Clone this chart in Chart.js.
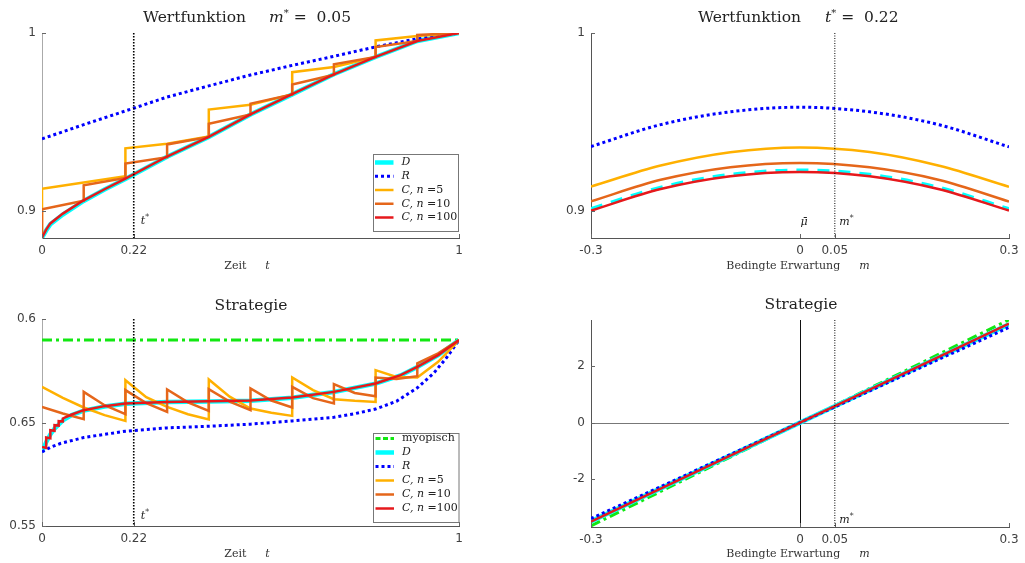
<!DOCTYPE html>
<html>
<head>
<meta charset="utf-8">
<script src="https://cdn.jsdelivr.net/npm/chart.js@4.4.1/dist/chart.umd.min.js"></script>
<style>
    body { margin: 0; background: #fff; }
    #wrap { position: relative; width: 1025px; height: 563px; overflow: hidden; font-family: "DejaVu Serif", serif; color: #222; }
    canvas { position: absolute; }
    .ttl { position: absolute; font-size: 15.5px; line-height: 18px; white-space: nowrap; }
    .ttl.c { transform: translateX(-50%); }
    .ttl sup, .ax sup { font-size: 10px; line-height: 0; vertical-align: 6px; }
    .ax { position: absolute; font-size: 11px; line-height: 13px; white-space: nowrap; transform: translateX(-50%); color: #333; }
    .gap { display: inline-block; }
</style>
</head>
<body>
<div id="wrap">
    <canvas id="c-tl" width="512" height="281" style="left:0;top:0"></canvas>
    <canvas id="c-tr" width="513" height="281" style="left:512px;top:0"></canvas>
    <canvas id="c-bl" width="512" height="282" style="left:0;top:281px"></canvas>
    <canvas id="c-br" width="513" height="282" style="left:512px;top:281px"></canvas>

    <div class="ttl" style="left:143px;top:8px">Wertfunktion<span class="gap" style="width:23px"></span><i>m</i><sup>*</sup>&nbsp;=&nbsp;&nbsp;0.05</div>
    <div class="ttl" style="left:698px;top:8px">Wertfunktion<span class="gap" style="width:24px"></span><i>t</i><sup>*</sup>&nbsp;=&nbsp;&nbsp;0.22</div>
    <div class="ttl c" style="left:251px;top:296px">Strategie</div>
    <div class="ttl c" style="left:801px;top:295px">Strategie</div>

    <div class="ax" style="left:247px;top:259px">Zeit<span class="gap" style="width:19px"></span><i>t</i></div>
    <div class="ax" style="left:798px;top:259px">Bedingte Erwartung<span class="gap" style="width:19px"></span><i>m</i></div>
    <div class="ax" style="left:247px;top:547px">Zeit<span class="gap" style="width:19px"></span><i>t</i></div>
    <div class="ax" style="left:798px;top:547px">Bedingte Erwartung<span class="gap" style="width:19px"></span><i>m</i></div>
</div>

<script>
// Achsen
const tTicks = [0, 0.22, 1];
const tTickLabels = ['0', '0.22', '1'];
const mTicks = [-0.3, 0, 0.05, 0.3];
const mTickLabels = ['-0.3', '0', '0.05', '0.3'];
const wTicks = [0.9, 1];
const wTickLabels = ['0.9', '1'];
const sTicks = [0.55, 0.65, 0.75];
const sTickLabels = ['0.55', '0.65', '0.6'];
const pTicks = [-2, 0, 2];
const pTickLabels = ['-2', '0', '2'];

const tStar = 0.22;
const mStar = 0.05;

// Wertfunktion über t
const tW_D = [0, 0.01, 0.02, 0.05, 0.1, 0.15, 0.2, 0.3, 0.4, 0.5, 0.6, 0.7, 0.8, 0.9, 1];
const wD_t = [0.885, 0.889, 0.8925, 0.898, 0.9056, 0.912, 0.918, 0.9305, 0.9415, 0.9542, 0.9655, 0.9768, 0.9865, 0.9955, 1.0];
const wC100_t = [0.885, 0.8895, 0.893, 0.8985, 0.906, 0.9122, 0.9182, 0.9306, 0.9416, 0.9543, 0.9656, 0.9768, 0.9866, 0.9955, 1.0];
const tW_R = [0, 0.1, 0.2, 0.3, 0.4, 0.5, 0.6, 0.7, 0.8, 0.9, 1];
const wR_t = [0.9405, 0.9485, 0.9562, 0.964, 0.9703, 0.9764, 0.9818, 0.9869, 0.9922, 0.9968, 1.0];
const tW_C5 = [0, 0, 0.1, 0.2, 0.2, 0.3, 0.4, 0.4, 0.5, 0.6, 0.6, 0.7, 0.8, 0.8, 0.9, 1];
const wC5_t = [0.885, 0.9125, 0.916, 0.9195, 0.9352, 0.9378, 0.9418, 0.957, 0.9597, 0.9655, 0.978, 0.9809, 0.9865, 0.9958, 0.9983, 1.0];
const tW_C10 = [0, 0, 0.1, 0.1, 0.2, 0.2, 0.3, 0.3, 0.4, 0.4, 0.5, 0.5, 0.6, 0.6, 0.7, 0.7, 0.8, 0.8, 0.9, 0.9, 1];
const wC10_t = [0.885, 0.9009, 0.9058, 0.9144, 0.9185, 0.9266, 0.9302, 0.9374, 0.9416, 0.949, 0.9542, 0.9603, 0.9655, 0.9711, 0.9765, 0.9824, 0.9865, 0.9921, 0.9955, 0.9989, 1.0];

// Wertfunktion über m
const mGrid = [-0.3, -0.2, -0.1, 0, 0.1, 0.2, 0.3];
const wD_m = [0.9011, 0.9131, 0.9203, 0.9227, 0.9203, 0.913, 0.901];
const wR_m = [0.9362, 0.9485, 0.9557, 0.9583, 0.9557, 0.9484, 0.936];
const wC5_m = [0.9137, 0.9255, 0.933, 0.9357, 0.9331, 0.9254, 0.9136];
const wC10_m = [0.9054, 0.9175, 0.9246, 0.927, 0.9245, 0.9174, 0.9053];
const wC100_m = [0.9002, 0.9123, 0.9195, 0.9219, 0.9195, 0.9122, 0.9002];

// Strategie über t
const tS_myop = [0, 1];
const sMyop_t = [0.7296, 0.7296];
const tS_D = [0, 0.01, 0.02, 0.03, 0.05, 0.07, 0.1, 0.15, 0.2, 0.3, 0.4, 0.5, 0.6, 0.7, 0.8, 0.86, 0.9, 0.95, 1];
const sD_t = [0.6216, 0.631, 0.6385, 0.644, 0.652, 0.657, 0.6615, 0.6655, 0.6682, 0.6697, 0.6704, 0.671, 0.674, 0.6794, 0.6875, 0.6955, 0.7035, 0.715, 0.7296];
const tS_R = [0, 0.02, 0.044, 0.1, 0.2, 0.3, 0.4, 0.5, 0.6, 0.7, 0.75, 0.8, 0.85, 0.9, 0.94, 0.97, 1];
const sR_t = [0.6216, 0.626, 0.6297, 0.6355, 0.6416, 0.6448, 0.6464, 0.6484, 0.6515, 0.655, 0.6585, 0.663, 0.6705, 0.6835, 0.698, 0.7125, 0.7296];
const tS_C5 = [0, 0.05, 0.1, 0.15, 0.2, 0.2, 0.25, 0.3, 0.35, 0.4, 0.4, 0.45, 0.5, 0.55, 0.6, 0.6, 0.65, 0.7, 0.75, 0.8, 0.8, 0.85, 0.9, 0.95, 1];
const sC5_t = [0.6845, 0.6738, 0.6645, 0.6571, 0.6516, 0.6909, 0.6745, 0.6651, 0.658, 0.6529, 0.6916, 0.675, 0.6635, 0.6595, 0.6564, 0.6935, 0.6813, 0.6725, 0.6709, 0.6699, 0.7006, 0.694, 0.6935, 0.7087, 0.7296];
const tS_C10 = [0, 0.05, 0.1, 0.1, 0.15, 0.2, 0.2, 0.25, 0.3, 0.3, 0.35, 0.4, 0.4, 0.45, 0.5, 0.5, 0.55, 0.6, 0.6, 0.65, 0.7, 0.7, 0.75, 0.8, 0.8, 0.85, 0.9, 0.9, 0.95, 1];
const sC10_t = [0.6651, 0.6587, 0.6532, 0.6796, 0.6667, 0.658, 0.6813, 0.6688, 0.6603, 0.6819, 0.6695, 0.6613, 0.6822, 0.6702, 0.6619, 0.6829, 0.6712, 0.6645, 0.6845, 0.6735, 0.6684, 0.6871, 0.6785, 0.6754, 0.6935, 0.692, 0.6948, 0.7071, 0.7168, 0.7296];
const tS_C100 = [0, 0.01, 0.01, 0.02, 0.02, 0.03, 0.03, 0.04, 0.04, 0.05, 0.05, 0.07, 0.1, 0.15, 0.2, 0.3, 0.4, 0.5, 0.6, 0.7, 0.8, 0.86, 0.9, 0.95, 1];
const sC100_t = [0.6264, 0.6255, 0.6355, 0.6348, 0.6426, 0.642, 0.6474, 0.647, 0.6513, 0.651, 0.6539, 0.6575, 0.6619, 0.6658, 0.6684, 0.6699, 0.6706, 0.6712, 0.6742, 0.6796, 0.6877, 0.6958, 0.7038, 0.7151, 0.7296];

// Strategie über m
const mLin = [-0.3, 0, 0.3];
const sMyop_m = [-3.65, 0, 3.64];
const sD_m = [-3.49, 0, 3.48];
const sR_m = [-3.39, 0, 3.37];
const sC100_m = [-3.5, 0, 3.5];

const STYLE = {
    myop: { label: 'myopisch', borderColor: '#12e812', borderWidth: 3, borderDash: [10, 4, 3, 4] },
    D:    { label: '$D$', borderColor: '#00ffff', borderWidth: 4.5 },
    R:    { label: '$R$', borderColor: '#0000ff', borderWidth: 3, borderDash: [3, 3] },
    C5:   { label: '$C, n$ =5', borderColor: '#ffb000', borderWidth: 2.5 },
    C10:  { label: '$C, n$ =10', borderColor: '#e5661a', borderWidth: 2.5 },
    C100: { label: '$C, n$ =100', borderColor: '#e6191c', borderWidth: 2.5 }
};
const LAYER = { myop: 5, D: 4, R: 3, C5: 2, C10: 1, C100: 0 };

function pts(xs, ys) {
    return xs.map((x, i) => ({ x: x, y: ys[i] }));
}

function series(key, xs, ys, extra) {
    return Object.assign({
        data: pts(xs, ys),
        pointRadius: 0,
        tension: 0,
        fill: false,
        order: LAYER[key],
        borderCapStyle: 'butt'
    }, STYLE[key], extra || {});
}

function axis(min, max, ticks, labels, isX, size, borderColor) {
    return {
        type: 'linear', min: min, max: max,
        grid: { display: false, drawTicks: false },
        border: { display: true, color: borderColor, width: 1 },
        ticks: {
            autoSkip: false, maxRotation: 0, padding: isX ? 6 : 6, color: '#404040',
            font: { family: 'DejaVu Sans', size: 12 },
            callback: v => {
                const i = ticks.findIndex(t => Math.abs(t - v) < 1e-9);
                return i < 0 ? '' : labels[i];
            }
        },
        afterBuildTicks: s => { s.ticks = ticks.map(v => ({ value: v })); },
        afterFit: s => { if (isX) s.height = size; else s.width = size; }
    };
}

// Text mit $kursiv$ und ^hochgestellt
function drawRich(ctx, str, x, y, size, color) {
    const parts = str.split(/(\$[^$]+\$|\^.)/).filter(Boolean);
    ctx.textBaseline = 'middle';
    ctx.textAlign = 'left';
    ctx.fillStyle = color;
    parts.forEach(p => {
        let s = p, dy = 0, font = size + 'px "DejaVu Serif"';
        if (p[0] === '$') { s = p.slice(1, -1); font = 'italic ' + size + 'px "DejaVu Serif"'; }
        else if (p[0] === '^') { s = p.slice(1); font = (size * 0.7) + 'px "DejaVu Serif"'; dy = -size * 0.38; }
        ctx.font = font;
        ctx.fillText(s, x, y + dy);
        x += ctx.measureText(s).width;
    });
}

const deco = {
    id: 'deco',
    beforeDatasetsDraw(chart, args, o) {
        const { ctx, chartArea: a, scales: { x, y } } = chart;
        ctx.save();
        if (o.zeroLines) {
            ctx.lineWidth = 1;
            ctx.strokeStyle = '#777';
            const py = Math.round(y.getPixelForValue(0)) + 0.5;
            ctx.beginPath(); ctx.moveTo(a.left, py); ctx.lineTo(a.right, py); ctx.stroke();
            ctx.strokeStyle = '#111';
            const px = Math.round(x.getPixelForValue(0)) + 0.5;
            ctx.beginPath(); ctx.moveTo(px, a.top); ctx.lineTo(px, a.bottom); ctx.stroke();
        }
        ctx.restore();
    },
    afterDatasetsDraw(chart, args, o) {
        const { ctx, chartArea: a, scales: { x, y } } = chart;
        ctx.save();

        // Ticks nach innen
        ctx.strokeStyle = '#666';
        ctx.lineWidth = 1;
        y.ticks.forEach(t => {
            const py = Math.round(y.getPixelForValue(t.value)) + 0.5;
            ctx.beginPath(); ctx.moveTo(a.left, py); ctx.lineTo(a.left + 4, py); ctx.stroke();
        });
        x.ticks.forEach(t => {
            const px = Math.round(x.getPixelForValue(t.value)) + 0.5;
            ctx.beginPath(); ctx.moveTo(px, a.bottom); ctx.lineTo(px, a.bottom - 4); ctx.stroke();
        });

        // gestrichelte Markierung
        if (o.vline) {
            const px = x.getPixelForValue(o.vline.value);
            ctx.strokeStyle = '#000';
            ctx.lineWidth = o.vline.width;
            ctx.setLineDash(o.vline.dash);
            ctx.beginPath(); ctx.moveTo(px, a.top); ctx.lineTo(px, a.bottom); ctx.stroke();
            ctx.setLineDash([]);
        }

        (o.texts || []).forEach(t => {
            drawRich(ctx, t.str, x.getPixelForValue(t.value) + t.dx, a.bottom - t.up, 11, '#222');
        });

        // Legende
        if (o.legend) {
            const L = o.legend;
            const bx = a.right - L.right - L.w, by = a.bottom - L.bottom - L.h;
            ctx.fillStyle = '#fff';
            ctx.fillRect(bx, by, L.w, L.h);
            ctx.strokeStyle = '#777';
            ctx.lineWidth = 1;
            ctx.strokeRect(Math.round(bx) + 0.5, Math.round(by) + 0.5, L.w, L.h);
            chart.data.datasets.forEach((ds, i) => {
                const cy = by + L.first + i * L.step;
                ctx.strokeStyle = ds.borderColor;
                ctx.lineWidth = ds.borderWidth;
                ctx.setLineDash(ds.legendDash || ds.borderDash || []);
                ctx.beginPath(); ctx.moveTo(bx + 2.5, cy); ctx.lineTo(bx + 21, cy); ctx.stroke();
                ctx.setLineDash([]);
                drawRich(ctx, ds.label, bx + 29, cy, 11, '#222');
            });
        }
        ctx.restore();
    }
};
Chart.register(deco);

function makeChart(id, datasets, scales, pad, decoOpts, smooth) {
    return new Chart(document.getElementById(id), {
        type: 'line',
        data: { datasets: datasets },
        options: {
            responsive: false,
            animation: false,
            devicePixelRatio: 1,
            layout: { padding: pad },
            elements: { line: smooth ? { cubicInterpolationMode: 'monotone' } : {} },
            plugins: { legend: { display: false }, tooltip: { enabled: false }, title: { display: false }, deco: decoOpts },
            scales: scales
        }
    });
}

// oben links: Wertfunktion über t
makeChart('c-tl', [
    series('D', tW_D, wD_t),
    series('R', tW_R, wR_t),
    series('C5', tW_C5, wC5_t),
    series('C10', tW_C10, wC10_t),
    series('C100', tW_D, wC100_t)
], {
    x: axis(0, 1, tTicks, tTickLabels, true, 43, '#555'),
    y: axis(0.8848, 1, wTicks, wTickLabels, false, 42, '#aaa')
}, { top: 33, right: 53, left: 0, bottom: 0 }, {
    vline: { value: tStar, width: 1.6, dash: [1.5, 1.5] },
    texts: [{ str: '$t$^*', value: tStar, dx: 7, up: 17 }],
    legend: { right: 1.5, bottom: 7.5, w: 85, h: 77, first: 9, step: 13.75 }
});

// oben rechts: Wertfunktion über m
makeChart('c-tr', [
    series('D', mGrid, wD_m, { borderDash: [12, 9], borderWidth: 4 }),
    series('R', mGrid, wR_m),
    series('C5', mGrid, wC5_m),
    series('C10', mGrid, wC10_m),
    series('C100', mGrid, wC100_m)
], {
    x: axis(-0.3, 0.3, mTicks, mTickLabels, true, 43, '#555'),
    y: axis(0.8848, 1, wTicks, wTickLabels, false, 79, '#555')
}, { top: 33, right: 16, left: 0, bottom: 0 }, {
    vline: { value: mStar, width: 1, dash: [1, 1.5] },
    texts: [{ str: '$μ̄$', value: 0, dx: 0.5, up: 16 }, { str: '$m$^*', value: mStar, dx: 4.5, up: 16 }]
}, true);

// unten links: Strategie über t
makeChart('c-bl', [
    series('myop', tS_myop, sMyop_t, { legendDash: [5, 2.5] }),
    series('D', tS_D, sD_t),
    series('R', tS_R, sR_t),
    series('C5', tS_C5, sC5_t),
    series('C10', tS_C10, sC10_t),
    series('C100', tS_C100, sC100_t)
], {
    x: axis(0, 1, tTicks, tTickLabels, true, 37, '#555'),
    y: axis(0.55, 0.75, sTicks, sTickLabels, false, 42, '#aaa')
}, { top: 38, right: 53, left: 0, bottom: 0 }, {
    vline: { value: tStar, width: 1.6, dash: [1.5, 1.5] },
    texts: [{ str: '$t$^*', value: tStar, dx: 7, up: 10 }],
    legend: { right: 0.5, bottom: 4.5, w: 85.5, h: 89, first: 6, step: 14 }
});

// unten rechts: Strategie über m
makeChart('c-br', [
    series('myop', mLin, sMyop_m),
    series('D', mLin, sD_m),
    series('R', mLin, sR_m),
    series('C100', mLin, sC100_m)
], {
    x: axis(-0.3, 0.3, mTicks, mTickLabels, true, 36, '#555'),
    y: axis(-3.69, 3.63, pTicks, pTickLabels, false, 79, '#555')
}, { top: 39, right: 16, left: 0, bottom: 0 }, {
    zeroLines: true,
    vline: { value: mStar, width: 1, dash: [1, 1.5] },
    texts: [{ str: '$m$^*', value: mStar, dx: 4.5, up: 7 }]
});
</script>
</body>
</html>
